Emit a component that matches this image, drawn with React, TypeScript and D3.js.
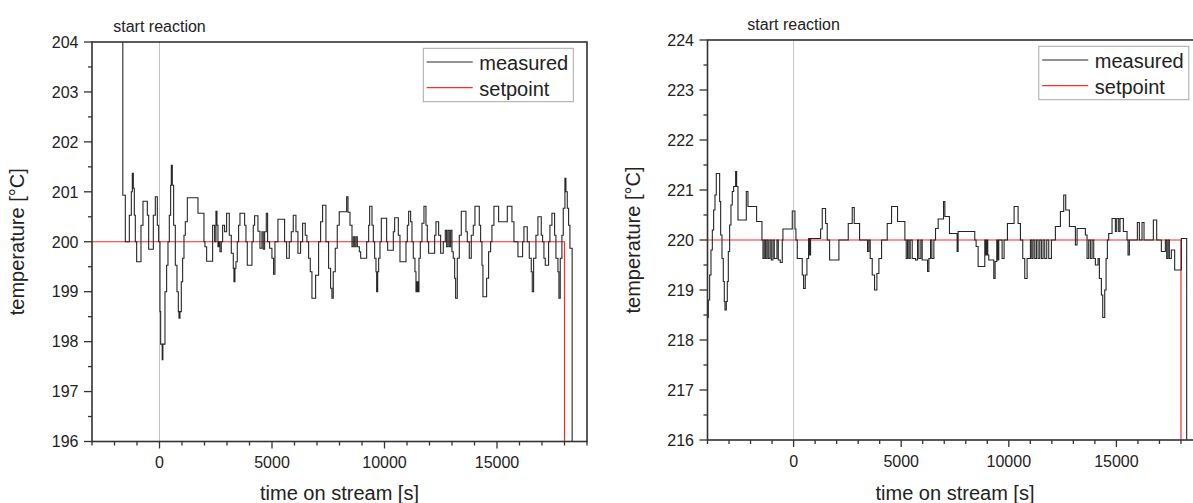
import React from 'react';
import * as d3 from 'd3';

const FONT = '"Liberation Sans", Arial, Helvetica, sans-serif';

type Pt = [number, number];

// time on stream [s], temperature [°C] (step data)
const leftMeasured: Pt[] = [
  [-1700, 206], [-1630, 200.93], [-1519, 200.0], [-1341, 200.53], [-1252, 201.0], [-1208, 201.37],
  [-1164, 201.07], [-1119, 200.53], [-1075, 200.0], [-1015, 199.6], [-823, 200.33], [-734, 200.81],
  [-541, 200.53], [-482, 199.85], [-275, 200.53], [-186, 200.9], [-97, 200.33], [-38, 200.0],
  [21, 198.6], [51, 197.95], [120, 197.64], [150, 197.95], [243, 199.0], [317, 199.53], [377, 200.0],
  [436, 200.53], [495, 201.13], [525, 201.53], [569, 201.13], [628, 200.33], [703, 199.53], [777, 199.0],
  [836, 198.6], [866, 198.47], [910, 198.6], [969, 199.2], [1028, 199.67], [1088, 200.13], [1147, 200.4],
  [1236, 200.88], [1710, 200.57], [1976, 200.0], [2021, 199.9], [2095, 199.61], [2361, 200.33],
  [2450, 200.0], [2509, 200.61], [2554, 200.33], [2598, 199.9], [2643, 200.0], [2687, 199.8],
  [2746, 200.0], [2806, 200.33], [2894, 200.2], [2983, 200.57], [3102, 200.13], [3191, 199.77],
  [3279, 199.47], [3309, 199.2], [3353, 199.47], [3398, 199.6], [3457, 200.0], [3516, 200.33],
  [3576, 200.57], [3783, 200.33], [3843, 200.0], [3901, 199.53], [4109, 200.0], [4168, 200.33],
  [4227, 200.52], [4375, 200.21], [4464, 199.87], [4553, 200.2], [4612, 199.85], [4672, 200.2],
  [4746, 200.57], [4805, 200.0], [4894, 199.87], [4997, 199.67], [5071, 199.35], [5131, 200.0],
  [5264, 200.45], [5560, 200.0], [5649, 199.67], [5768, 200.0], [5856, 200.2], [5945, 200.53],
  [6064, 200.2], [6153, 199.77], [6271, 200.0], [6360, 200.37], [6478, 200.13], [6552, 200.0],
  [6627, 199.67], [6701, 199.4], [6775, 198.87], [6938, 199.33], [7071, 200.0], [7160, 200.4],
  [7249, 200.73], [7397, 200.0], [7515, 199.47], [7604, 199.07], [7663, 198.87], [7722, 199.4],
  [7811, 199.87], [7900, 200.33], [7989, 200.6], [8318, 200.9], [8377, 200.59], [8466, 200.33],
  [8555, 199.9], [8614, 200.1], [8674, 199.9], [8733, 200.1], [8792, 199.9], [8881, 199.8],
  [8940, 199.67], [9207, 200.0], [9296, 200.33], [9340, 200.71], [9444, 200.33], [9503, 200.0],
  [9562, 199.67], [9621, 199.4], [9651, 199.0], [9696, 199.4], [9740, 199.67], [9799, 200.0],
  [9858, 200.47], [10095, 200.0], [10140, 199.83], [10392, 200.2], [10451, 200.48], [10614, 200.13],
  [10688, 199.6], [10955, 200.0], [11014, 200.33], [11073, 200.61], [11162, 200.4], [11221, 200.0],
  [11280, 199.67], [11354, 199.4], [11399, 199.0], [11443, 199.2], [11488, 199.0], [11532, 199.67],
  [11591, 200.0], [11665, 200.37], [11754, 200.71], [11843, 200.33], [11902, 200.0], [11961, 199.77],
  [12228, 200.13], [12287, 200.4], [12406, 200.13], [12495, 199.77], [12613, 200.0], [12702, 200.23],
  [12761, 199.9], [12820, 200.23], [12880, 199.9], [12939, 200.23], [12998, 199.8], [13057, 199.67],
  [13117, 199.27], [13161, 198.87], [13235, 199.67], [13324, 200.13], [13413, 200.61], [13620, 200.2],
  [13680, 200.0], [13768, 199.67], [13857, 200.13], [13946, 200.33], [14020, 200.71], [14213, 200.33],
  [14272, 200.0], [14331, 199.53], [14375, 198.9], [14538, 199.27], [14627, 199.8], [14716, 200.0],
  [14775, 200.33], [14864, 200.71], [15072, 200.4], [15457, 200.71], [15664, 200.4], [15753, 200.0],
  [15931, 199.7], [16138, 200.0], [16197, 200.3], [16345, 200.0], [16434, 199.67], [16523, 199.4],
  [16567, 199.0], [16627, 199.67], [16730, 200.13], [16819, 200.5], [16967, 200.13], [17027, 200.0],
  [17086, 199.67], [17145, 199.53], [17293, 200.0], [17352, 200.33], [17441, 200.57], [17560, 200.13],
  [17619, 199.67], [17708, 199.4], [17752, 198.87], [17811, 199.67], [17885, 200.13], [17945, 200.67],
  [18019, 201.27], [18063, 201.0], [18123, 200.67], [18182, 200.33], [18241, 199.87], [18340, 194],
  [19000, 194],
];

const leftSetpoint: Pt[] = [[-3000, 200], [18000, 200], [18000, 150], [19000, 150]];

const rightMeasured: Pt[] = [
  [-4000, 218.45], [-3962, 218.8], [-3900, 219.3], [-3838, 219.8], [-3776, 220.2], [-3715, 220.6],
  [-3653, 220.9], [-3591, 221.33], [-3436, 220.77], [-3389, 220.1], [-3327, 219.63], [-3266, 219.17],
  [-3219, 218.77], [-3188, 218.6], [-3126, 218.77], [-3080, 219.17], [-3033, 219.77], [-2971, 220.3],
  [-2910, 220.7], [-2848, 220.97], [-2786, 221.07], [-2693, 221.37], [-2646, 221.07], [-2584, 220.4],
  [-2197, 220.97], [-2120, 220.67], [-1718, 220.37], [-1470, 220.0], [-1423, 219.63], [-1362, 220.0],
  [-1300, 219.63], [-1238, 220.0], [-1176, 219.63], [-1098, 220.0], [-1036, 219.6], [-959, 220.0],
  [-897, 219.63], [-773, 220.0], [-711, 219.6], [-619, 219.55], [-526, 220.0], [-495, 220.22],
  [-61, 220.58], [63, 220.22], [109, 220.0], [171, 219.63], [403, 219.3], [465, 219.03], [543, 219.3],
  [620, 219.63], [697, 220.03], [744, 219.7], [790, 220.03], [1255, 220.22], [1332, 220.63],
  [1487, 220.33], [1564, 220.0], [1673, 219.6], [2106, 220.0], [2540, 220.33], [2725, 220.65],
  [2818, 220.33], [3066, 220.0], [3437, 219.77], [3499, 220.0], [3561, 219.63], [3654, 219.3],
  [3762, 219.0], [3871, 219.33], [3964, 219.63], [4088, 220.0], [4351, 220.33], [4552, 220.67],
  [4830, 220.37], [5171, 220.0], [5233, 219.63], [5295, 220.0], [5357, 219.63], [5419, 220.0],
  [5512, 219.63], [5666, 219.6], [5759, 220.0], [5821, 219.63], [5914, 220.0], [5976, 219.6],
  [6224, 219.37], [6286, 219.63], [6363, 220.0], [6425, 219.63], [6518, 220.0], [6595, 220.23],
  [6719, 220.42], [6967, 220.77], [7029, 220.47], [7243, 220.13], [7599, 219.77], [7645, 220.17],
  [8419, 220.0], [8481, 219.87], [8574, 219.47], [8884, 220.0], [8930, 219.7], [8976, 220.0],
  [9023, 219.7], [9069, 219.6], [9302, 219.23], [9364, 219.57], [9441, 220.0], [9487, 219.6],
  [9534, 220.0], [9689, 219.63], [9781, 220.0], [9936, 220.33], [10246, 220.67], [10432, 220.33],
  [10540, 220.0], [10648, 219.63], [10741, 219.23], [10850, 219.63], [11004, 220.0], [11066, 219.63],
  [11128, 220.0], [11206, 219.63], [11283, 220.0], [11360, 219.63], [11438, 220.0], [11515, 219.63],
  [11593, 220.0], [11670, 219.63], [11763, 220.0], [11856, 219.63], [11980, 220.0], [12165, 220.27],
  [12398, 220.57], [12552, 220.9], [12645, 220.6], [12816, 220.27], [13094, 219.9], [13172, 220.23],
  [13559, 220.1], [13636, 219.63], [13713, 220.0], [13791, 219.63], [13868, 220.0], [13946, 219.63],
  [14023, 219.5], [14147, 219.63], [14209, 219.23], [14302, 218.9], [14364, 218.45], [14457, 219.0],
  [14519, 219.63], [14580, 220.0], [14642, 220.13], [14797, 220.43], [14952, 220.17], [15014, 220.43],
  [15107, 220.17], [15168, 220.43], [15323, 220.17], [15494, 220.0], [15540, 219.7], [15602, 220.0],
  [15973, 220.35], [16066, 220.0], [16190, 220.35], [16283, 220.0], [16716, 220.4], [16871, 220.0],
  [17088, 219.77], [17274, 220.0], [17336, 219.63], [17398, 220.0], [17459, 219.63], [17552, 219.8],
  [17707, 219.4], [18017, 220.03], [18265, 214], [19000, 214],
];

const rightSetpoint: Pt[] = [[-4000, 220], [18000, 220], [18000, 150], [19000, 150]];

const xMajorTicks = [0, 5000, 10000, 15000];
const leftYTicks = [196, 197, 198, 199, 200, 201, 202, 203, 204];
const rightYTicks = [216, 217, 218, 219, 220, 221, 222, 223, 224];
const legendLabels = ['measured', 'setpoint'];

const AXIS = '#333';
const MEASURED = '#262626';
const SETPOINT = '#ff2a2a';

type PanelProps = {
  id: string;
  left: number;
  right: number;
  top: number;
  bottom: number;
  xDomain: [number, number];
  yDomain: [number, number];
  yTicks: number[];
  measured: Pt[];
  setpoint: Pt[];
};

const Panel = ({ id, left, right, top, bottom, xDomain, yDomain, yTicks, measured, setpoint }: PanelProps) => {
  const xScale = d3.scaleLinear().domain(xDomain).range([left, right]);
  const yScale = d3.scaleLinear().domain(yDomain).range([bottom, top]);
  const line = d3
    .line<Pt>()
    .x((d) => xScale(d[0]))
    .y((d) => yScale(d[1]))
    .curve(d3.curveStepAfter);

  const xMinor = d3.range(Math.ceil(xDomain[0] / 1000) * 1000, xDomain[1] + 1, 1000);
  const yMinor = d3.range(yDomain[0], yDomain[1] + 0.01, 0.5);
  const midX = (left + right) / 2;
  const midY = (top + bottom) / 2;

  return (
    <g>
      <defs>
        <clipPath id={id}>
          <rect x={left} y={top} width={right - left} height={bottom - top} />
        </clipPath>
      </defs>

      {/* start of reaction marker */}
      <line x1={xScale(0)} x2={xScale(0)} y1={top} y2={bottom} stroke="#c4c4c4" strokeWidth={1} />
      <text x={xScale(0)} y={top - 10} textAnchor="middle" fontSize={16} fill="#222">
        start reaction
      </text>

      <g clipPath={`url(#${id})`}>
        <path d={line(setpoint) ?? ''} fill="none" stroke={SETPOINT} strokeWidth={1.2} />
        <path d={line(measured) ?? ''} fill="none" stroke={MEASURED} strokeWidth={1.1} />
      </g>

      {/* frame */}
      <rect x={left} y={top} width={right - left} height={bottom - top} fill="none" stroke={AXIS} strokeWidth={1.6} />

      {/* x ticks */}
      {xMinor.map((t) => {
        const major = t % 5000 === 0;
        return <line key={t} x1={xScale(t)} x2={xScale(t)} y1={bottom} y2={bottom + (major ? 7 : 4)} stroke={AXIS} strokeWidth={1.3} />;
      })}
      {xMajorTicks.map((t) => (
        <text key={t} x={xScale(t)} y={bottom + 26.8} textAnchor="middle" fontSize={16} fill="#222">
          {t}
        </text>
      ))}

      {/* y ticks */}
      {yMinor.map((v) => {
        const major = Number.isInteger(v);
        return <line key={v} x1={left - (major ? 8 : 4)} x2={left} y1={yScale(v)} y2={yScale(v)} stroke={AXIS} strokeWidth={1.3} />;
      })}
      {yTicks.map((v) => (
        <text key={v} x={left - 13.5} y={yScale(v) + 5.8} textAnchor="end" fontSize={16} fill="#222">
          {v}
        </text>
      ))}

      {/* axis titles */}
      <text x={midX} y={500} textAnchor="middle" fontSize={20} fill="#222">
        time on stream [s]
      </text>
      <text transform={`translate(${left - 68},${midY}) rotate(-90)`} textAnchor="middle" fontSize={20} fill="#222">
        temperature [°C]
      </text>

      {/* legend */}
      <g transform={`translate(${right - 163.7},${top + 6.3})`}>
        <rect x={0} y={0} width={150} height={53.4} fill="#fff" stroke="#a8a8a8" strokeWidth={1} />
        {legendLabels.map((label, i) => (
          <g key={label} transform={`translate(0,${13.7 + i * 25.7})`}>
            <line x1={3.4} x2={49.4} y1={0} y2={0} stroke={i === 0 ? MEASURED : SETPOINT} strokeWidth={1.2} />
            <text x={56} y={7.8} fontSize={20} fill="#222">
              {label}
            </text>
          </g>
        ))}
      </g>
    </g>
  );
};

const App = () => {
  const width = 1193;
  const height = 503;
  return (
    <svg
      width={width}
      height={height}
      style={{ position: 'absolute', left: 0, top: 0, background: '#fff', fontFamily: FONT }}
    >
      <rect width={width} height={height} fill="#fff" />
      <Panel
        id="clip-left"
        left={92}
        right={587}
        top={42}
        bottom={441.5}
        xDomain={[-3000, 19000]}
        yDomain={[196, 204]}
        yTicks={leftYTicks}
        measured={leftMeasured}
        setpoint={leftSetpoint}
      />
      <Panel
        id="clip-right"
        left={707.5}
        right={1202.5}
        top={40}
        bottom={440}
        xDomain={[-4000, 19000]}
        yDomain={[216, 224]}
        yTicks={rightYTicks}
        measured={rightMeasured}
        setpoint={rightSetpoint}
      />
    </svg>
  );
};

export default App;
